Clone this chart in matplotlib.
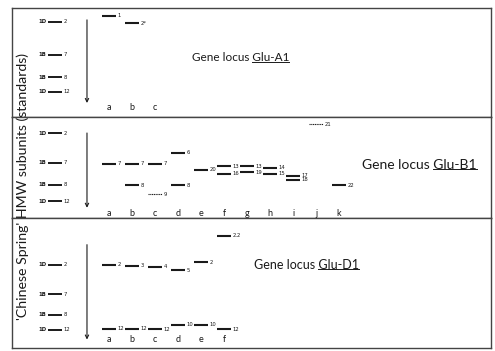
import matplotlib.pyplot as plt
from matplotlib.lines import Line2D

plt.rcParams['font.family'] = ['Lato', 'DejaVu Sans']

# 'Chinese Spring' standards (same in every panel)
std_subunits = ['2', '7', '8', '12']
std_genome = ['1D', '1B', '1B', '1D']

# Glu-A1 alleles
a1_lanes = ['a', 'b', 'c']
a1_bands = [['1'], ['2*'], []]
a1_mob = [[-9], [2], []]
a1_std_mob = [0, 47, 79, 100]

# Glu-B1 alleles
b1_lanes = ['a', 'b', 'c', 'd', 'e', 'f', 'g', 'h', 'i', 'j', 'k']
b1_bands = [['7'], ['7', '8'], ['7', '9'], ['6', '8'], ['20'], ['13', '16'],
            ['13', '19'], ['14', '15'], ['17', '18'], ['21'], ['22']]
b1_mob = [[45], [45, 77], [45, 90], [29, 77], [54], [49, 60],
          [49, 58], [51, 60], [63, 69], [-13], [77]]
b1_faint = ['9', '21']
b1_std_mob = [0, 44, 76, 100]

# Glu-D1 alleles
d1_lanes = ['a', 'b', 'c', 'd', 'e', 'f']
d1_bands = [['2', '12'], ['3', '12'], ['4', '12'], ['5', '10'], ['2', '10'], ['2.2', '12']]
d1_mob = [[0, 98], [1.5, 98], [3, 99], [8, 92], [-4, 92], [-45, 99]]
d1_std_mob = [0, 45, 77, 100]

panels = [
    dict(lanes=a1_lanes, bands=a1_bands, mob=a1_mob, std=a1_std_mob, faint=[],
         locus='Glu-A1', rect=[0.0242, 0.6667, 0.9677, 0.3105], ylim=(136, -20),
         arrow=(-3, 116), lab_y=123, title_xy=(3.6, 51), title_fs=8.5),
    dict(lanes=b1_lanes, bands=b1_bands, mob=b1_mob, std=b1_std_mob, faint=b1_faint,
         locus='Glu-B1', rect=[0.0242, 0.3789, 0.9677, 0.2877], ylim=(125, -23.5),
         arrow=(0, 110), lab_y=118, title_xy=(11.0, 47), title_fs=10),
    dict(lanes=d1_lanes, bands=d1_bands, mob=d1_mob, std=d1_std_mob, faint=[],
         locus='Glu-D1', rect=[0.0242, 0.0085, 0.9677, 0.3704], ylim=(128, -72),
         arrow=(-31, 115), lab_y=115, title_xy=(6.3, 0), title_fs=9),
]

ink = '#1a1a1a'
half = 0.3      # half length of a band, in lane units
std_x = -2.35   # standards column
arrow_x = -0.96

fig = plt.figure(figsize=(4.95, 3.51), dpi=100)
titles = []

for p in panels:
    ax = fig.add_axes(p['rect'])
    ax.set_xlim(-4.22, 16.6)
    ax.set_ylim(*p['ylim'])
    ax.set_xticks([])
    ax.set_yticks([])
    for s in ax.spines.values():
        s.set_color('#444444')
        s.set_linewidth(1.0)

    # standards
    for g, sub, m in zip(std_genome, std_subunits, p['std']):
        ax.plot([std_x - half, std_x + half], [m, m], color=ink, lw=1.4,
                solid_capstyle='butt')
        ax.text(std_x - half - 0.08, m, g, fontsize=3.8, ha='right', va='center',
                color=ink, family='DejaVu Sans', fontweight='bold')
        ax.text(std_x + half + 0.08, m, sub, fontsize=3.8, ha='left', va='center',
                color=ink, family='DejaVu Sans')

    # direction of migration
    y0, y1 = p['arrow']
    ax.annotate('', xy=(arrow_x, y1), xytext=(arrow_x, y0),
                arrowprops=dict(arrowstyle='->', color=ink, lw=0.8,
                                mutation_scale=6, shrinkA=0, shrinkB=0))

    # allele lanes
    for i, (lane, names, mobs) in enumerate(zip(p['lanes'], p['bands'], p['mob'])):
        ax.text(i, p['lab_y'], lane, fontsize=6.5, ha='center', va='center', color=ink)
        for name, m in zip(names, mobs):
            faint = name in p['faint']
            ax.plot([i - half, i + half], [m, m], color=ink,
                    lw=0.8 if faint else 1.5,
                    linestyle=(0, (1, 0.6)) if faint else '-',
                    solid_capstyle='butt')
            ax.text(i + half + 0.08, m, name, fontsize=3.8, ha='left',
                    va='center', color=ink, family='DejaVu Sans')

    tx, ty = p['title_xy']
    full = ax.text(tx, ty, 'Gene locus ' + p['locus'], fontsize=p['title_fs'],
                   ha='left', va='center', color=ink)
    titles.append((full, p['locus'], p['title_fs']))

fig.text(0.046, 0.47, "'Chinese Spring' HMW subunits (standards)", rotation=90,
         fontsize=10.2, ha='center', va='center', color=ink)

# underline the locus names
fig.canvas.draw()
r = fig.canvas.get_renderer()
inv = fig.transFigure.inverted()
for full, locus, fs in titles:
    probe = fig.text(0, 0, locus, fontsize=fs)
    w = probe.get_window_extent(r).width
    probe.remove()
    bf = full.get_window_extent(r)
    y = bf.y0 + 1.5
    (fx0, fy), (fx1, _) = inv.transform([(bf.x1 - w, y), (bf.x1, y)])
    fig.add_artist(Line2D([fx0, fx1], [fy, fy], color=ink, lw=0.7))

fig.savefig('out.png', dpi=100)
